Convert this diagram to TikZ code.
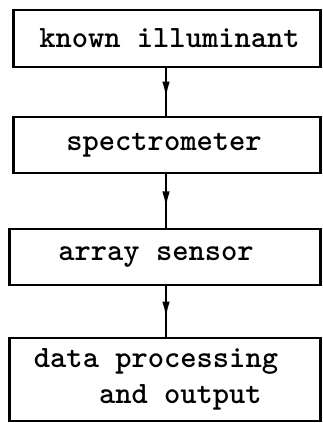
\documentclass[tikz,border=0pt]{standalone}
\usetikzlibrary{arrows.meta,decorations.markings}
\begin{document}
\begin{tikzpicture}[x=1pt,y=-1pt,
  box/.style={draw=black,line width=2.8pt,rectangle,inner sep=0pt,
    font=\ttfamily\bfseries\fontsize{31}{36}\selectfont,align=left},
  conn/.style={line width=2.4pt,postaction={decorate},
    decoration={markings,mark=at position 0.64 with {\arrow{Latex[length=17pt,width=7.5pt]}}}}]
\useasboundingbox (0,0) rectangle (323,423);
\node[box,minimum width=307pt,minimum height=57pt] (b1) at (167,38.5) {\hspace*{5pt}known illuminant};
\node[box,minimum width=307pt,minimum height=56pt] (b2) at (167,145) {spectrometer\hspace*{6pt}};
\node[box,minimum width=311pt,minimum height=56pt] (b3) at (165,257) {array sensor\hspace*{18pt}};
\node[box,minimum width=311pt,minimum height=83pt] (b4) at (165,379.5) {data processing\hspace*{18pt}\\\phantom{data}and output};
\draw[conn] (b1.south -| 166,0) -- (b2.north -| 166,0);
\draw[conn] (b2.south -| 166,0) -- (b3.north -| 166,0);
\draw[conn] (b3.south -| 166,0) -- (b4.north -| 166,0);
\end{tikzpicture}
\end{document}
